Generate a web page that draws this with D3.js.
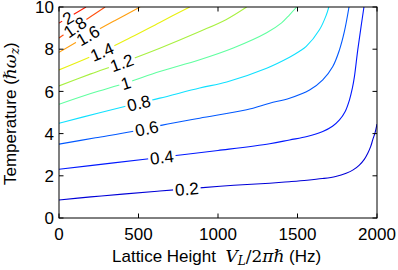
<!DOCTYPE html>
<html>
<head>
<meta charset="utf-8">
<script src="https://cdn.jsdelivr.net/npm/d3@7"></script>
<style>
  body { margin: 0; background: #fff; }
  svg text { font-family: "Liberation Sans", Arial, sans-serif; }
</style>
</head>
<body>
<div id="chart"></div>
<script>
// contour levels
var levels = [0.2, 0.4, 0.6, 0.8, 1, 1.2, 1.4, 1.6, 1.8, 2];
var levelColors = ["#0000d8", "#0018ff", "#0058ff", "#10e0ff", "#60ffa0",
                   "#a8f040", "#e8f010", "#ffa010", "#ff5010", "#ff1a00"];
// each contour as [lattice height Hz, temperature]
var c02 = [[0,0.85],[200,1.0],[400,1.13],[634,1.28],[885,1.43],[1100,1.55],[1325,1.65],[1450,1.72],
           [1560,1.79],[1657,1.87],[1740,1.97],[1806,2.12],[1850,2.28],[1889,2.51],[1920,2.78],
           [1942,3.07],[1960,3.38],[1973,3.7],[1988,4.05],[2000,4.45]];
var c04 = [[0,2.31],[330,2.6],[665,2.9],[1000,3.2],[1325,3.52],[1450,3.7],[1560,3.86],[1659,4.1],
           [1720,4.35],[1764,4.65],[1800,5.05],[1827,5.6],[1845,6.15],[1858,6.7],[1879,7.97],
           [1900,9.08],[1918,10]];
var c06 = [[0,3.5],[230,3.8],[460,4.1],[650,4.4],[885,4.73],[1180,5.13],[1325,5.44],[1450,5.68],
           [1576,6.07],[1659,6.55],[1722,7.18],[1764,7.97],[1795,8.84],[1824,10]];
var c08 = [[0,4.49],[250,4.98],[502,5.45],[634,5.68],[885,6.16],[1055,6.45],[1306,7.1],[1450,7.62],
           [1513,7.9],[1555,8.13],[1638,8.92],[1680,9.6],[1697,10]];
var c10 = [[0,5.39],[200,5.9],[420,6.4],[634,6.94],[885,7.5],[1100,8.07],[1306,8.78],[1400,9.25],
           [1450,9.63],[1495,10]];
var c12 = [[0,6.26],[200,6.83],[395,7.36],[634,8.05],[885,8.84],[1050,9.4],[1180,10]];
var c14 = [[0,7.02],[270,7.88],[450,8.55],[634,9.27],[822,10]];
var c16 = [[0,7.85],[182,8.65],[350,9.35],[510,10]];
var c18 = [[0,8.53],[100,9.05],[200,9.55],[290,10]];
var c20 = [[0,9.24],[80,9.6],[170,10]];
var contourLines = [c02, c04, c06, c08, c10, c12, c14, c16, c18, c20];
// where along each contour (Hz) the inline label sits
var labelAt = [804, 647, 552, 502, 420, 395, 270, 182, 100, 56];
var xTicks = [0, 500, 1000, 1500, 2000];
var yTicks = [0, 2, 4, 6, 8, 10];

var width = 398, height = 270;
var plotL = 59, plotR = 377, plotT = 7, plotB = 218;

var svg = d3.select("#chart").append("svg")
    .attr("width", width).attr("height", height);

var x = d3.scaleLinear().domain([0, 2000]).range([plotL, plotR]);
var y = d3.scaleLinear().domain([0, 10]).range([plotB, plotT]);

svg.append("clipPath").attr("id", "plot")
  .append("rect").attr("x", plotL).attr("y", plotT)
  .attr("width", plotR - plotL).attr("height", plotB - plotT);

var line = d3.line()
    .x(function(d) { return x(d[0]); })
    .y(function(d) { return y(d[1]); })
    .curve(d3.curveCatmullRom.alpha(0.5));

var g = svg.append("g").attr("clip-path", "url(#plot)");
g.selectAll("path.contour")
  .data(contourLines)
  .enter().append("path")
    .attr("class", "contour")
    .attr("d", line)
    .attr("fill", "none")
    .attr("stroke", function(d, i) { return levelColors[i]; })
    .attr("stroke-width", 1.1);

// inline labels: find the point on the contour and the local direction
function pointAt(pts, hz) {
  for (var i = 0; i < pts.length - 1; i++) {
    if (hz >= pts[i][0] && hz <= pts[i + 1][0]) {
      var t = (hz - pts[i][0]) / (pts[i + 1][0] - pts[i][0]);
      var px = x(pts[i][0]) + t * (x(pts[i + 1][0]) - x(pts[i][0]));
      var py = y(pts[i][1]) + t * (y(pts[i + 1][1]) - y(pts[i][1]));
      var ang = Math.atan2(y(pts[i + 1][1]) - y(pts[i][1]), x(pts[i + 1][0]) - x(pts[i][0]));
      return [px, py, ang * 180 / Math.PI];
    }
  }
  return [x(pts[0][0]), y(pts[0][1]), 0];
}

var labels = svg.append("g").attr("clip-path", "url(#plot)");
levels.forEach(function(lv, i) {
  var p = pointAt(contourLines[i], labelAt[i]);
  var lg = labels.append("g")
      .attr("transform", "translate(" + p[0] + "," + p[1] + ") rotate(" + p[2] + ")");
  var bg = lg.append("rect").attr("fill", "#fff");
  var t = lg.append("text")
      .attr("text-anchor", "middle")
      .attr("dy", "0.36em")
      .attr("font-size", 17)
      .attr("fill", "#000")
      .text(d3.format("~g")(lv));
  var w = t.node().getComputedTextLength();
  bg.attr("x", -w / 2 - 2).attr("y", -6).attr("width", w + 4).attr("height", 12);
});

// frame and inward ticks on all four sides
svg.append("rect")
  .attr("x", plotL).attr("y", plotT)
  .attr("width", plotR - plotL).attr("height", plotB - plotT)
  .attr("fill", "none").attr("stroke", "#000").attr("stroke-width", 1);

var tickLen = 4.5;
xTicks.forEach(function(v) {
  svg.append("line").attr("x1", x(v)).attr("x2", x(v))
    .attr("y1", plotB).attr("y2", plotB - tickLen).attr("stroke", "#000");
  svg.append("line").attr("x1", x(v)).attr("x2", x(v))
    .attr("y1", plotT).attr("y2", plotT + tickLen).attr("stroke", "#000");
  svg.append("text").attr("x", x(v)).attr("y", 240)
    .attr("text-anchor", "middle").attr("font-size", 17).text(v);
});
yTicks.forEach(function(v) {
  svg.append("line").attr("x1", plotL).attr("x2", plotL + tickLen)
    .attr("y1", y(v)).attr("y2", y(v)).attr("stroke", "#000");
  svg.append("line").attr("x1", plotR).attr("x2", plotR - tickLen)
    .attr("y1", y(v)).attr("y2", y(v)).attr("stroke", "#000");
  svg.append("text").attr("x", 54).attr("y", y(v))
    .attr("dy", "0.36em")
    .attr("text-anchor", "end").attr("font-size", 17).text(v);
});

// axis titles
var xl = svg.append("text").attr("x", 112).attr("y", 262).attr("font-size", 17);
xl.append("tspan").text("Lattice Height\u00a0\u00a0");
xl.append("tspan").attr("font-family", "DejaVu Serif").attr("font-style", "italic").text("V");
xl.append("tspan").attr("font-family", "DejaVu Serif").attr("font-style", "italic")
  .attr("font-size", 12).attr("dy", 3).text("L");
xl.append("tspan").attr("font-family", "DejaVu Serif").attr("dy", -3).text("/2");
xl.append("tspan").attr("font-family", "DejaVu Serif").attr("font-style", "italic").text("π\u210f");
xl.append("tspan").text(" (Hz)");

var yl = svg.append("text")
  .attr("transform", "translate(15.5,185) rotate(-90)")
  .attr("font-size", 17);
yl.append("tspan").text("Temperature (");
yl.append("tspan").attr("font-family", "DejaVu Serif").attr("font-style", "italic").text("\u210fω");
yl.append("tspan").attr("font-family", "DejaVu Serif").attr("font-style", "italic")
  .attr("font-size", 12).attr("dy", 3).text("z");
yl.append("tspan").attr("dy", -3).text(")");
</script>
</body>
</html>
